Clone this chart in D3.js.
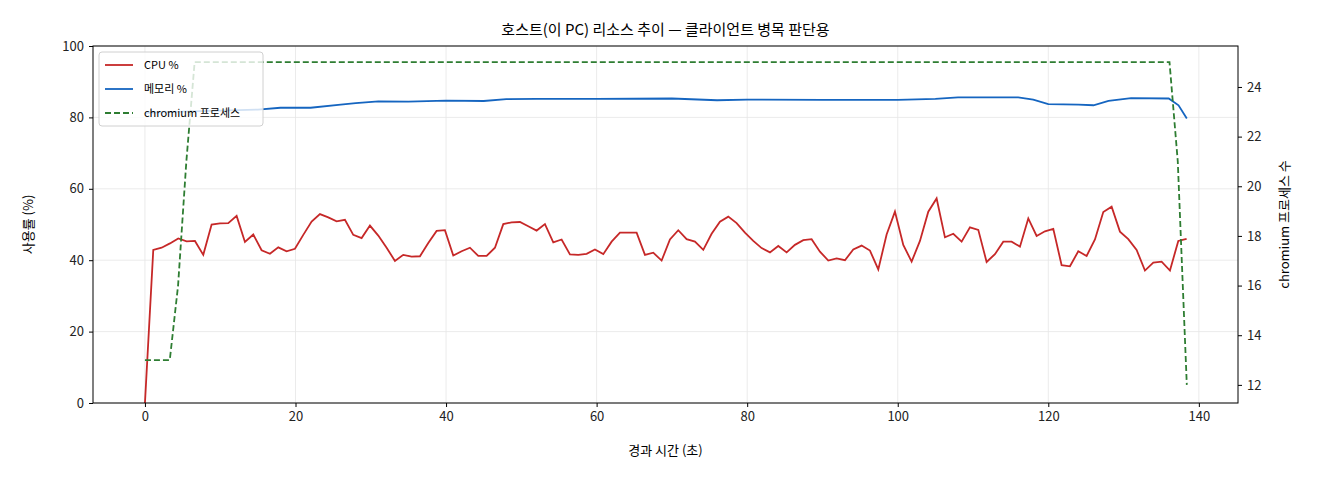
<!DOCTYPE html>
<html><head><meta charset="utf-8">
<script src="https://cdn.jsdelivr.net/npm/d3@7"></script>
<style>
body{margin:0;background:#fff;}
text{font-family:"Noto Sans CJK KR","DejaVu Sans",sans-serif;}
</style></head>
<body><svg id="chart" width="1320" height="480"></svg>
<script>
// sampling interval in seconds
var step = 1.107;

var cpu = [0,42.9,43.5,44.7,46.1,45.3,45.4,41.5,50.0,50.3,50.4,52.4,45.1,47.2,42.8,41.8,43.6,42.5,43.2,47.1,
  50.8,52.9,52.0,50.9,51.3,47.1,46.2,49.7,46.9,43.5,39.8,41.5,41.0,41.1,44.8,48.2,48.4,41.3,42.5,
  43.5,41.2,41.2,43.5,50.1,50.6,50.7,49.5,48.3,50.1,45.0,45.8,41.6,41.5,41.8,43.0,41.7,45.2,47.7,47.7,47.7,
  41.5,42.1,39.9,45.8,48.4,45.9,45.2,42.9,47.4,50.8,52.2,50.4,47.7,45.4,43.4,42.2,44.0,42.2,44.3,45.6,45.9,42.4,39.9,
  40.5,40.0,43.0,44.1,42.7,37.4,47.2,53.6,44.3,39.6,45.4,53.6,57.3,46.4,47.4,45.2,49.2,48.5,39.5,41.7,45.2,45.2,
  43.8,51.7,46.8,48.1,48.8,38.6,38.3,42.5,41.2,45.8,53.5,55.0,48.0,45.9,42.9,37.1,39.3,39.6,37.1,45.4,46.0];

var memTimes = [0,5,10,15,18,22,26,28,31,35,40,45,48,52,60,70,76,80,90,100,105,108,112,116,118,120,124,126,128,131,136,137.3,138.4];
var memory   = [81.3,81.6,81.9,82.2,82.7,82.7,83.6,84.0,84.5,84.4,84.7,84.6,85.1,85.2,85.2,85.3,84.8,85.0,84.9,84.9,85.2,85.6,85.6,85.6,85.0,83.7,83.6,83.4,84.6,85.4,85.3,83.4,79.7];

var procTimes = [0,1.1,2.2,3.3,4.4,5.5,6.6,136.1,137.2,138.4];
var procs     = [13,13,13,13,16,21,25,25,21,12];

var title = "호스트(이 PC) 리소스 추이 — 클라이언트 병목 판단용";

var svg = d3.select("#chart");
var m = {l:93, r:1238, t:46, b:403};
var x = d3.scaleLinear().domain([-6.9, 145.2]).range([m.l, m.r]);
var y = d3.scaleLinear().domain([0, 100]).range([m.b, m.t]);
var y2 = d3.scaleLinear().domain([11.27, 25.65]).range([m.b, m.t]);

// grid
var g = svg.append("g").attr("stroke", "#e6e6e6").attr("stroke-width", 0.8);
d3.range(0, 141, 20).forEach(function (v) {
  g.append("line").attr("x1", x(v)).attr("x2", x(v)).attr("y1", m.t).attr("y2", m.b);
});
d3.range(0, 101, 20).forEach(function (v) {
  g.append("line").attr("x1", m.l).attr("x2", m.r).attr("y1", y(v)).attr("y2", y(v));
});

function line(xs, ys, sy) {
  return d3.line().x(function (d, i) { return x(xs[i]); }).y(function (d) { return sy(d); })(ys);
}
var cpuTimes = cpu.map(function (d, i) { return i * step; });

svg.append("path").attr("d", line(memTimes, memory, y)).attr("fill", "none").attr("stroke", "#1565c0").attr("stroke-width", 1.8);
svg.append("path").attr("d", line(cpuTimes, cpu, y)).attr("fill", "none").attr("stroke", "#c62828").attr("stroke-width", 1.8);
svg.append("path").attr("d", line(procTimes, procs, y2)).attr("fill", "none").attr("stroke", "#2e7d32").attr("stroke-width", 1.8).attr("stroke-dasharray", "6,3");

// axes
function styleAxis(sel) {
  sel.selectAll("text").attr("font-size", 13).attr("fill", "#222");
  sel.select(".domain").remove();
}
svg.append("g").attr("transform", "translate(0," + m.b + ")")
  .call(d3.axisBottom(x).tickValues(d3.range(0, 141, 20)).tickSize(4).tickPadding(5)).call(styleAxis);
svg.append("g").attr("transform", "translate(" + m.l + ",0)")
  .call(d3.axisLeft(y).tickValues(d3.range(0, 101, 20)).tickSize(4).tickPadding(5)).call(styleAxis);
svg.append("g").attr("transform", "translate(" + m.r + ",0)")
  .call(d3.axisRight(y2).tickValues(d3.range(12, 25, 2)).tickSize(4).tickPadding(5)).call(styleAxis);
svg.append("rect").attr("x", m.l).attr("y", m.t).attr("width", m.r - m.l).attr("height", m.b - m.t)
  .attr("fill", "none").attr("stroke", "#000").attr("stroke-width", 1);

svg.append("text").attr("x", (m.l + m.r) / 2).attr("y", 35).attr("text-anchor", "middle").attr("font-size", 15).text(title);
svg.append("text").attr("x", (m.l + m.r) / 2).attr("y", 455).attr("text-anchor", "middle").attr("font-size", 13).text("경과 시간 (초)");
svg.append("text").attr("transform", "translate(33," + (m.t + m.b) / 2 + ") rotate(-90)").attr("text-anchor", "middle").attr("font-size", 13).text("사용률 (%)");
svg.append("text").attr("transform", "translate(1289," + (m.t + m.b) / 2 + ") rotate(-90)").attr("text-anchor", "middle").attr("font-size", 13).text("chromium 프로세스 수");

// legend
var lg = svg.append("g").attr("transform", "translate(99,52)");
lg.append("rect").attr("width", 164).attr("height", 74).attr("rx", 3).attr("fill", "rgba(255,255,255,0.8)").attr("stroke", "#d0d0d0");
[["CPU %", "#c62828", null], ["메모리 %", "#1565c0", null], ["chromium 프로세스", "#2e7d32", "6,3"]].forEach(function (d, i) {
  var yy = 13 + i * 24;
  lg.append("line").attr("x1", 6).attr("x2", 34).attr("y1", yy).attr("y2", yy).attr("stroke", d[1]).attr("stroke-width", 1.8).attr("stroke-dasharray", d[2]);
  lg.append("text").attr("x", 45).attr("y", yy + 4).attr("font-size", 11).text(d[0]);
});
</script></body></html>
